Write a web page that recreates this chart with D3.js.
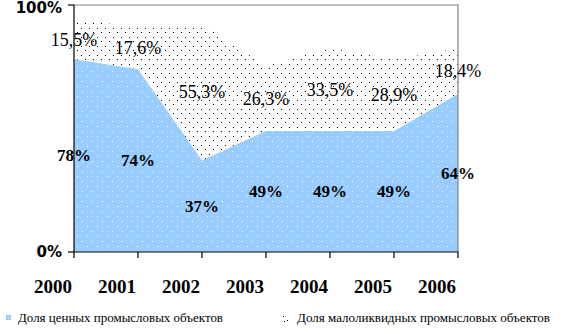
<!DOCTYPE html>
<html>
<head>
<meta charset="utf-8">
<script src="https://cdn.jsdelivr.net/npm/d3@7"></script>
<style>
  html, body { margin: 0; padding: 0; background: #fff; }
  svg { display: block; }
</style>
</head>
<body>
<svg id="chart" width="573" height="334"></svg>
<script>
// Categories and series (percent of total)
const years = ["2000", "2001", "2002", "2003", "2004", "2005", "2006"];
const valuableShare = [78, 74, 37, 49, 49, 49, 64];
const illiquidShare = [15.5, 17.6, 55.3, 26.3, 33.5, 28.9, 18.4];
const yTickValues = [0, 100];
const legendLabels = ["Доля ценных промысловых объектов", "Доля малоликвидных промысловых объектов"];

const SERIF = '"Liberation Serif"';
const SANS = '"DejaVu Sans"';
const plot = { left: 74, right: 458, top: 5, bottom: 252 };

const svg = d3.select("#chart");

const ruLocale = d3.formatLocale({ decimal: ",", thousands: " ", grouping: [3], currency: ["", ""] });
const fmt1 = ruLocale.format(".1f");

const x = d3.scalePoint().domain(years).range([plot.left, plot.right]);
const labelX = d3.scalePoint().domain(years).range([plot.left - 21, plot.right - 21]);
const y = d3.scaleLinear().domain([0, 100]).range([plot.bottom, plot.top]);

// Fill patterns
const defs = svg.append("defs");
const pBlue = defs.append("pattern").attr("id", "pBlue")
  .attr("patternUnits", "userSpaceOnUse").attr("width", 10).attr("height", 10);
pBlue.append("rect").attr("width", 10).attr("height", 10).attr("fill", "#99CCFF");
pBlue.append("rect").attr("x", 2).attr("y", 1).attr("width", 1).attr("height", 1).attr("fill", "#fff");
pBlue.append("rect").attr("x", 7).attr("y", 6).attr("width", 1).attr("height", 1).attr("fill", "#fff");

const pDots = defs.append("pattern").attr("id", "pDots")
  .attr("patternUnits", "userSpaceOnUse").attr("width", 8).attr("height", 9);
pDots.append("rect").attr("width", 8).attr("height", 9).attr("fill", "#fff");
pDots.append("rect").attr("x", 1).attr("y", 1).attr("width", 1).attr("height", 1).attr("fill", "#000");
pDots.append("rect").attr("x", 5).attr("y", 5).attr("width", 1).attr("height", 1).attr("fill", "#000");

const rows = years.map((yr, i) => ({ yr, a: valuableShare[i], b: illiquidShare[i] }));

// Stacked areas
const areaTop = d3.area()
  .x(d => x(d.yr))
  .y0(d => y(d.a))
  .y1(d => y(d.a + d.b));
const areaBase = d3.area()
  .x(d => x(d.yr))
  .y0(y(0))
  .y1(d => y(d.a));

svg.append("path").datum(rows).attr("d", areaTop).attr("fill", "url(#pDots)");
svg.append("path").datum(rows).attr("d", areaBase).attr("fill", "url(#pBlue)");

// Plot frame (top and right in gray)
svg.append("path")
  .attr("d", `M${plot.left},${plot.top}H${plot.right}V${plot.bottom}`)
  .attr("fill", "none").attr("stroke", "#808080").attr("stroke-width", 1.2);

// Axes
const gAxis = svg.append("g");
gAxis.append("line")
  .attr("x1", plot.left).attr("x2", plot.left)
  .attr("y1", plot.top).attr("y2", plot.bottom)
  .attr("stroke", "#000").attr("stroke-width", 1.2);
gAxis.append("line")
  .attr("x1", plot.left).attr("x2", plot.right)
  .attr("y1", plot.bottom).attr("y2", plot.bottom)
  .attr("stroke", "#000").attr("stroke-width", 1.2);

gAxis.selectAll("line.xt").data(years).enter().append("line")
  .attr("class", "xt")
  .attr("x1", d => x(d)).attr("x2", d => x(d))
  .attr("y1", plot.bottom).attr("y2", plot.bottom + 6)
  .attr("stroke", "#000").attr("stroke-width", 1.2);

gAxis.selectAll("line.yt").data(yTickValues).enter().append("line")
  .attr("class", "yt")
  .attr("x1", plot.left - 6).attr("x2", plot.left)
  .attr("y1", d => y(d)).attr("y2", d => y(d))
  .attr("stroke", "#000").attr("stroke-width", 1.2);

gAxis.selectAll("text.yl").data(yTickValues).enter().append("text")
  .attr("class", "yl")
  .attr("x", plot.left - 12)
  .attr("y", d => Math.max(y(d), 8))
  .attr("dy", "0.36em")
  .attr("text-anchor", "end")
  .style("font-family", SANS)
  .style("font-weight", "bold")
  .style("font-size", "15px")
  .text(d => d + "%");

gAxis.selectAll("text.xl").data(years).enter().append("text")
  .attr("class", "xl")
  .attr("x", d => labelX(d)).attr("y", 293)
  .attr("text-anchor", "middle")
  .style("font-family", SERIF)
  .style("font-weight", "bold")
  .style("font-size", "19px")
  .text(d => d);

// Value labels, centred in each band
svg.selectAll("text.lb").data(rows).enter().append("text")
  .attr("class", "lb")
  .attr("x", d => x(d.yr)).attr("y", d => y(d.a / 2))
  .attr("dy", "0.34em")
  .attr("text-anchor", "middle")
  .style("font-family", SERIF)
  .style("font-weight", "bold")
  .style("font-size", "17px")
  .text(d => d.a + "%");

svg.selectAll("text.lt").data(rows).enter().append("text")
  .attr("class", "lt")
  .attr("x", d => x(d.yr)).attr("y", d => y(d.a + d.b / 2))
  .attr("dy", "0.34em")
  .attr("text-anchor", "middle")
  .style("font-family", SERIF)
  .style("font-size", "18px")
  .text(d => fmt1(d.b) + "%");

// Legend
const lg = svg.append("g");
lg.append("rect").attr("x", 6).attr("y", 315).attr("width", 5).attr("height", 5).attr("fill", "#99CCFF");
lg.append("rect").attr("x", 8).attr("y", 317).attr("width", 1).attr("height", 1).attr("fill", "#fff");
lg.append("text").attr("x", 18).attr("y", 322)
  .style("font-family", SERIF).style("font-size", "13px")
  .attr("textLength", 205).attr("lengthAdjust", "spacingAndGlyphs")
  .text(legendLabels[0]);

[[283, 316], [287, 320], [284, 321]].forEach(p => {
  lg.append("rect").attr("x", p[0]).attr("y", p[1]).attr("width", 1).attr("height", 1).attr("fill", "#000");
});
lg.append("text").attr("x", 297).attr("y", 322)
  .style("font-family", SERIF).style("font-size", "13px")
  .attr("textLength", 253).attr("lengthAdjust", "spacingAndGlyphs")
  .text(legendLabels[1]);
</script>
</body>
</html>
